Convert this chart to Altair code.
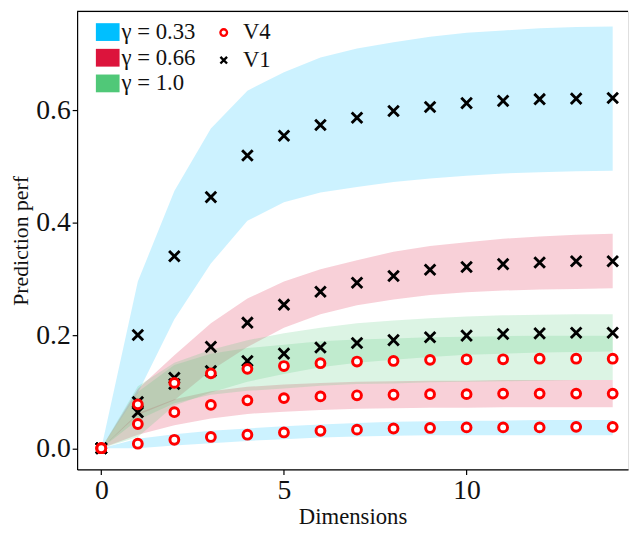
import altair as alt
import pandas as pd

dims = list(range(15))

gamma_labels = ["γ = 0.33", "γ = 0.66", "γ = 1.0"]
band_colors = ["#00BFFF", "#DC143C", "#50C878"]
series_labels = ["V4", "V1"]

# V4 (circles)
v4_g033 = [0.0, 0.008, 0.015, 0.020, 0.024, 0.028, 0.031, 0.033, 0.035, 0.036, 0.037, 0.037, 0.037, 0.038, 0.038]
v4_g066 = [0.0, 0.043, 0.064, 0.077, 0.085, 0.089, 0.092, 0.094, 0.095, 0.096, 0.096, 0.097, 0.097, 0.097, 0.097]
v4_g100 = [0.0, 0.078, 0.116, 0.133, 0.141, 0.146, 0.151, 0.154, 0.155, 0.157, 0.158, 0.158, 0.159, 0.159, 0.159]
# V1 (crosses)
v1_g033 = [0.0, 0.201, 0.341, 0.446, 0.520, 0.555, 0.574, 0.587, 0.599, 0.606, 0.613, 0.617, 0.620, 0.621, 0.622]
v1_g066 = [0.0, 0.082, 0.125, 0.180, 0.223, 0.255, 0.278, 0.294, 0.306, 0.317, 0.322, 0.327, 0.330, 0.332, 0.332]
v1_g100 = [0.0, 0.064, 0.114, 0.137, 0.155, 0.168, 0.179, 0.187, 0.192, 0.197, 0.200, 0.203, 0.204, 0.205, 0.205]

# shaded bands (lower / upper)
v4_g033_lo = [0.0, 0.000, 0.005, 0.009, 0.013, 0.016, 0.019, 0.021, 0.022, 0.023, 0.023, 0.023, 0.023, 0.023, 0.023]
v4_g033_hi = [0.0, 0.017, 0.025, 0.031, 0.035, 0.039, 0.042, 0.045, 0.047, 0.048, 0.049, 0.049, 0.050, 0.050, 0.050]
v4_g066_lo = [0.0, 0.024, 0.041, 0.053, 0.061, 0.065, 0.068, 0.070, 0.071, 0.072, 0.072, 0.073, 0.073, 0.073, 0.073]
v4_g066_hi = [0.0, 0.062, 0.087, 0.101, 0.109, 0.113, 0.116, 0.118, 0.119, 0.120, 0.120, 0.121, 0.121, 0.121, 0.121]
v4_g100_lo = [0.0, 0.050, 0.080, 0.095, 0.102, 0.106, 0.111, 0.114, 0.115, 0.117, 0.118, 0.119, 0.120, 0.121, 0.121]
v4_g100_hi = [0.0, 0.100, 0.148, 0.168, 0.178, 0.184, 0.190, 0.193, 0.195, 0.197, 0.198, 0.199, 0.200, 0.200, 0.200]
v1_g033_lo = [0.0, 0.098, 0.229, 0.328, 0.404, 0.437, 0.454, 0.464, 0.473, 0.479, 0.484, 0.488, 0.490, 0.492, 0.493]
v1_g033_hi = [0.0, 0.296, 0.457, 0.568, 0.635, 0.668, 0.694, 0.710, 0.721, 0.731, 0.738, 0.742, 0.746, 0.748, 0.749]
v1_g066_lo = [0.0, 0.059, 0.085, 0.138, 0.180, 0.214, 0.238, 0.254, 0.264, 0.272, 0.277, 0.280, 0.282, 0.283, 0.284]
v1_g066_hi = [0.0, 0.105, 0.165, 0.222, 0.266, 0.296, 0.318, 0.334, 0.349, 0.359, 0.366, 0.372, 0.376, 0.379, 0.381]
v1_g100_lo = [0.0, 0.020, 0.076, 0.099, 0.118, 0.132, 0.144, 0.152, 0.157, 0.162, 0.166, 0.168, 0.170, 0.171, 0.172]
v1_g100_hi = [0.0, 0.110, 0.152, 0.175, 0.192, 0.204, 0.214, 0.222, 0.227, 0.231, 0.234, 0.236, 0.237, 0.238, 0.238]

# ---- build tables ----
point_sets = [
    ("V1", gamma_labels[0], v1_g033), ("V1", gamma_labels[1], v1_g066), ("V1", gamma_labels[2], v1_g100),
    ("V4", gamma_labels[0], v4_g033), ("V4", gamma_labels[1], v4_g066), ("V4", gamma_labels[2], v4_g100),
]
prow = []
for s, g, vals in point_sets:
    for d, v in zip(dims, vals):
        prow.append({"dim": d, "value": v, "gamma": g, "series": s})
points = pd.DataFrame(prow)

band_sets = [
    ("V1", gamma_labels[0], v1_g033_lo, v1_g033_hi),
    ("V4", gamma_labels[0], v4_g033_lo, v4_g033_hi),
    ("V1", gamma_labels[1], v1_g066_lo, v1_g066_hi),
    ("V4", gamma_labels[1], v4_g066_lo, v4_g066_hi),
    ("V1", gamma_labels[2], v1_g100_lo, v1_g100_hi),
    ("V4", gamma_labels[2], v4_g100_lo, v4_g100_hi),
]
brow = []
for s, g, lo, hi in band_sets:
    for d, a, b in zip(dims, lo, hi):
        brow.append({"dim": d, "lower": a, "upper": b, "gamma": g, "band": g + s})
bands = pd.DataFrame(brow)

FONT = "Liberation Serif"
W, H = 558, 464

xscale = alt.Scale(domain=[-0.662, 14.42], nice=False, zero=False)
yscale = alt.Scale(domain=[-0.0377, 0.776], nice=False, zero=False)

xaxis = alt.Axis(values=[0, 5, 10], title="Dimensions", grid=False, tickSize=5,
                 labelPadding=2, labelFontSize=28, labelFont=FONT, labelColor="#111",
                 titleFont=FONT, titleFontSize=23, titleFontWeight="normal", titleColor="#111",
                 titleY=55, titleBaseline="alphabetic",
                 domainColor="black", tickColor="black", domainWidth=1.2, tickWidth=1.2)
yaxis = alt.Axis(values=[0, 0.2, 0.4, 0.6], format=".1f", title="Prediction perf", grid=False,
                 tickSize=5, labelPadding=2, labelFontSize=28, labelFont=FONT, labelColor="#111",
                 titleFont=FONT, titleFontSize=22, titleFontWeight="normal", titleColor="#111",
                 titleX=-50, titleBaseline="alphabetic",
                 domainColor="black", tickColor="black", domainWidth=1.2, tickWidth=1.2)

band_legend = alt.Legend(title=None, orient="none", legendX=19, legendY=9, padding=0,
                         symbolType="M-1,-0.75H1V0.75H-1Z", symbolSize=576, symbolOpacity=1,
                         symbolStrokeWidth=0, labelFont=FONT, labelFontSize=23, labelColor="#111",
                         labelOffset=2, rowPadding=2)
shape_legend = alt.Legend(title=None, orient="none", legendX=137, legendY=10, padding=0,
                          symbolSize=45, symbolStrokeWidth=2.4, labelFont=FONT, labelFontSize=23,
                          labelColor="#111", labelOffset=8, rowPadding=4)

CROSS = "M-1,-1L1,1M-1,1L1,-1"
shape_scale = alt.Scale(domain=series_labels, range=["circle", CROSS])
stroke_scale = alt.Scale(domain=series_labels, range=["#FF0000", "#000000"])

base_x = alt.X("dim:Q", scale=xscale, axis=xaxis)

band_layer = alt.Chart(bands).mark_area(opacity=0.2).encode(
    x=base_x,
    y=alt.Y("lower:Q", scale=yscale, axis=yaxis),
    y2="upper:Q",
    fill=alt.Fill("gamma:N", scale=alt.Scale(domain=gamma_labels, range=band_colors), legend=band_legend),
    detail="band:N",
)

cross_layer = alt.Chart(points[points.series == "V1"]).mark_point(
    size=115, strokeWidth=2.9, fill="white", opacity=1).encode(
    x=base_x,
    y=alt.Y("value:Q", scale=yscale),
    shape=alt.Shape("series:N", scale=shape_scale, legend=shape_legend),
    stroke=alt.Stroke("series:N", scale=stroke_scale, legend=shape_legend),
    detail="gamma:N",
)

circle_layer = alt.Chart(points[points.series == "V4"]).mark_point(
    size=80, strokeWidth=3.0, fill="white", opacity=1).encode(
    x=base_x,
    y=alt.Y("value:Q", scale=yscale),
    shape=alt.Shape("series:N", scale=shape_scale, legend=shape_legend),
    stroke=alt.Stroke("series:N", scale=stroke_scale, legend=shape_legend),
    detail="gamma:N",
)

top_line = alt.Chart(pd.DataFrame({"k": [0]})).mark_rule(color="black", strokeWidth=1.2).encode(
    x=alt.value(0), x2=alt.value(W), y=alt.value(0)
)

chart = alt.layer(band_layer, cross_layer, circle_layer, top_line).properties(
    width=W, height=H,
    autosize=alt.AutoSizeParams(type="none"),
    padding={"left": 70, "top": 0, "right": 3, "bottom": 62},
).configure_view(stroke=None).configure(
    background="white", font=FONT
).configure_axis(titleFont=FONT, labelFont=FONT).configure_legend(labelFont=FONT)

chart.save("out.html", embed_options={"renderer": "svg", "actions": False})
